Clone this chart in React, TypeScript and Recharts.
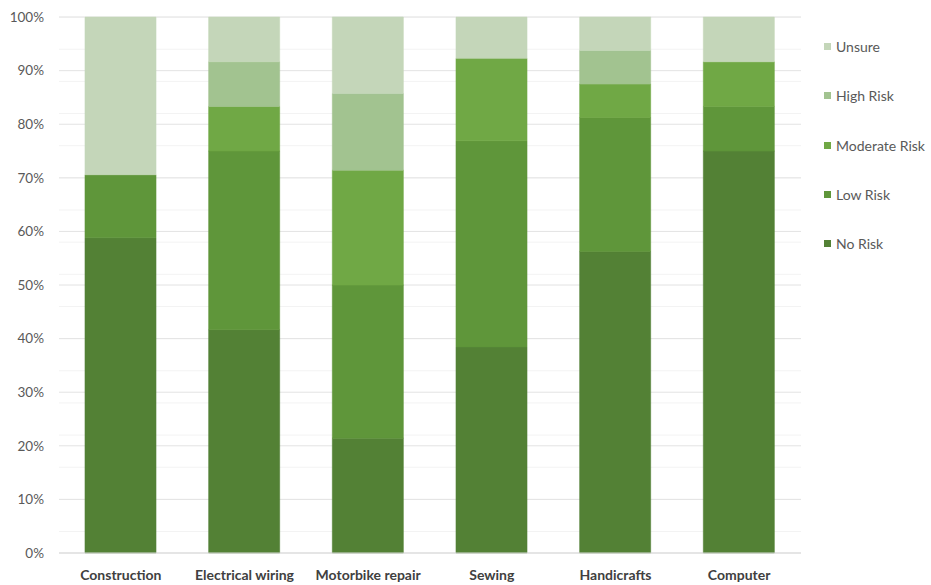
import React from "react";
import { BarChart, Bar, XAxis, YAxis, CartesianGrid } from "recharts";

const courses = ["Construction", "Electrical wiring", "Motorbike repair", "Sewing", "Handicrafts", "Computer"];

const noRisk = [58.82, 41.67, 21.43, 38.46, 56.25, 75.0];
const lowRisk = [11.76, 33.33, 28.57, 38.46, 25.0, 8.33];
const moderateRisk = [0, 8.33, 21.43, 15.38, 6.25, 8.33];
const highRisk = [0, 8.33, 14.29, 0, 6.25, 0];
const unsure = [29.41, 8.33, 14.29, 7.69, 6.25, 8.33];

const yTicks = [0, 10, 20, 30, 40, 50, 60, 70, 80, 90, 100];
const minorTicks = Array.from({ length: 51 }, (_, i) => i * 2);

const series = [
  { key: "noRisk", name: "No Risk", color: "#538135", values: noRisk },
  { key: "lowRisk", name: "Low Risk", color: "#5f963a", values: lowRisk },
  { key: "moderateRisk", name: "Moderate Risk", color: "#70a845", values: moderateRisk },
  { key: "highRisk", name: "High Risk", color: "#a2c390", values: highRisk },
  { key: "unsure", name: "Unsure", color: "#c4d6b9", values: unsure },
];

const data = courses.map((course, i) => {
  const row: Record<string, string | number> = { course };
  series.forEach((s) => {
    row[s.key] = s.values[i];
  });
  return row;
});

const font = "Lato, 'Open Sans', sans-serif";

// legend sits to the right of the plot, top entry = top of the stack
function RiskLegend() {
  return (
    <div
      style={{
        position: "absolute",
        left: 824,
        top: 22,
        width: 110,
        fontFamily: font,
        fontSize: 14,
        color: "#595959",
      }}
    >
      {[...series].reverse().map((s) => (
        <div key={s.key} style={{ display: "flex", alignItems: "center", height: 49.3 }}>
          <span style={{ width: 7, height: 7, background: s.color, marginRight: 5, display: "inline-block" }} />
          <span>{s.name}</span>
        </div>
      ))}
    </div>
  );
}

export default function App() {
  return (
    <div style={{ position: "absolute", left: 0, top: 0, width: 931, height: 585, background: "#fff" }}>
      <BarChart
        width={931}
        height={585}
        data={data}
        margin={{ top: 17, right: 130, left: 0, bottom: 0 }}
        barSize={71}
      >
        <CartesianGrid vertical={false} horizontalValues={minorTicks} stroke="#f3f3f3" />
        <CartesianGrid vertical={false} horizontalValues={yTicks} stroke="#e3e3e3" />
        <XAxis
          dataKey="course"
          height={32}
          axisLine={{ stroke: "#d9d9d9" }}
          tickLine={false}
          tickMargin={11}
          interval={0}
          tick={{ fill: "#404040", fontSize: 14, fontWeight: 700, fontFamily: font }}
        />
        <YAxis
          domain={[0, 100]}
          ticks={yTicks}
          width={59}
          axisLine={false}
          tickLine={false}
          tickSize={0}
          tickMargin={15}
          tickFormatter={(v: number) => `${v}%`}
          tick={{ fill: "#595959", fontSize: 13.5, fontFamily: font }}
        />
        {series.map((s) => (
          <Bar
            key={s.key}
            dataKey={s.key}
            name={s.name}
            stackId="risk"
            fill={s.color}
            stroke={s.color}
            strokeWidth={0.6}
            isAnimationActive={false}
          />
        ))}
      </BarChart>
      <RiskLegend />
    </div>
  );
}
